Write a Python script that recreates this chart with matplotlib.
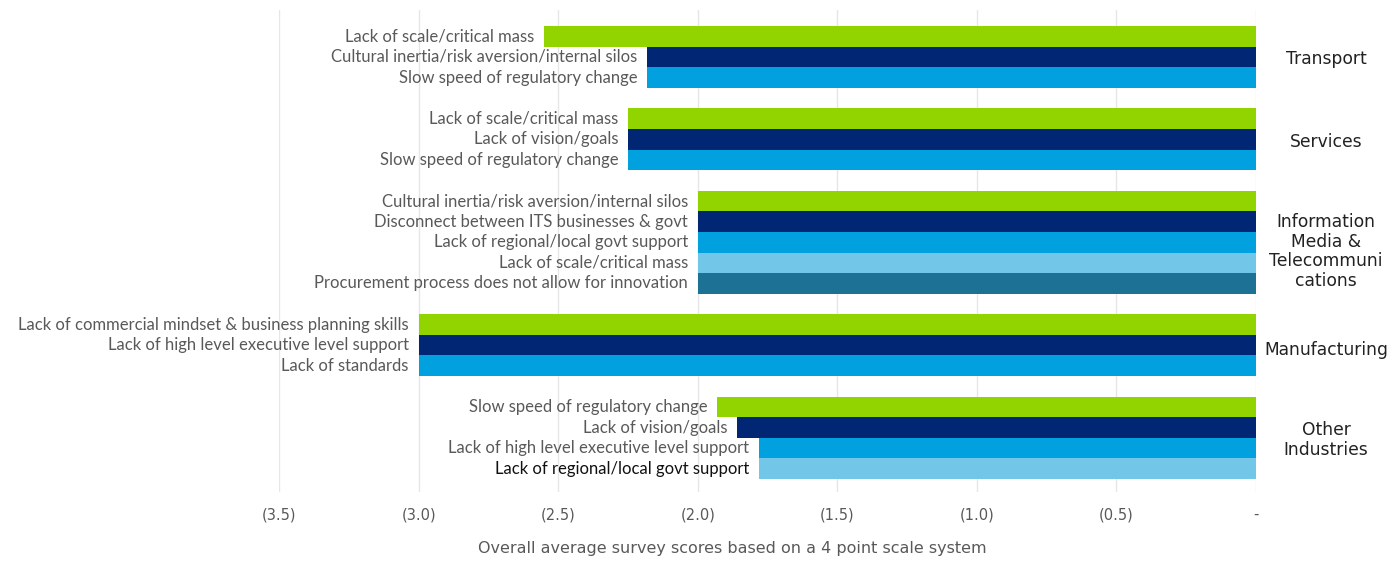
import matplotlib
matplotlib.use("Agg")
import matplotlib.pyplot as plt

# Survey results: barriers to adoption by industry (negative = barrier score)
industries = ["Transport", "Services", "Information\nMedia &\nTelecommuni\ncations",
              "Manufacturing", "Other\nIndustries"]

transport_labels = ["Lack of scale/critical mass",
                    "Cultural inertia/risk aversion/internal silos",
                    "Slow speed of regulatory change"]
transport_values = [-2.55, -2.18, -2.18]

services_labels = ["Lack of scale/critical mass",
                   "Lack of vision/goals",
                   "Slow speed of regulatory change"]
services_values = [-2.25, -2.25, -2.25]

media_labels = ["Cultural inertia/risk aversion/internal silos",
                "Disconnect between ITS businesses & govt",
                "Lack of regional/local govt support",
                "Lack of scale/critical mass",
                "Procurement process does not allow for innovation"]
media_values = [-2.0, -2.0, -2.0, -2.0, -2.0]

manufacturing_labels = ["Lack of commercial mindset & business planning skills",
                        "Lack of high level executive level support",
                        "Lack of standards"]
manufacturing_values = [-3.0, -3.0, -3.0]

other_labels = ["Slow speed of regulatory change",
                "Lack of vision/goals",
                "Lack of high level executive level support",
                "Lack of regional/local govt support"]
other_values = [-1.93, -1.86, -1.78, -1.78]

tick_values = [-3.5, -3.0, -2.5, -2.0, -1.5, -1.0, -0.5, 0.0]
tick_labels = ["(3.5)", "(3.0)", "(2.5)", "(2.0)", "(1.5)", "(1.0)", "(0.5)", "-"]

group_labels = [transport_labels, services_labels, media_labels,
                manufacturing_labels, other_labels]
group_values = [transport_values, services_values, media_values,
                manufacturing_values, other_values]

palette = ["#92D400", "#012774", "#00A1DE", "#72C6E7", "#1D7194"]
# vertical nudge of each industry caption (in bar slots)
caption_shift = [0.1, 0.15, 0.45, 0.25, 0.1]

fig = plt.figure(figsize=(14, 5.61), dpi=100)
ax = fig.add_axes([279 / 1400, 1 - 492 / 561, (1256 - 279) / 1400, (492 - 10) / 561])

slot = 0
for g, (labels, values) in enumerate(zip(group_labels, group_values)):
    start = slot
    for i, (lab, val) in enumerate(zip(labels, values)):
        ax.barh(slot, val, height=1.0, color=palette[i], zorder=2)
        col = "#111111" if (g == 4 and i == 3) else "#595959"
        ax.text(val - 0.035, slot, lab, ha="right", va="center",
                family=["Lato", "DejaVu Sans"], fontsize=12, color=col)
        slot += 1
    center = (start + slot - 1) / 2 + caption_shift[g]
    ax.text(1.0 + 70 / 977, center, industries[g], transform=ax.get_yaxis_transform(),
            ha="center", va="center", fontsize=12.3, color="#222222",
            family=["DejaVu Sans"], linespacing=1.12)
    slot += 1

last = slot - 2
ax.set_ylim(last + 0.5 + 0.63, -0.5 - 0.78)
ax.set_xlim(-3.5, 0)
ax.set_xticks(tick_values)
ax.set_xticklabels(tick_labels, family=["DejaVu Sans"], fontsize=10.5,
                   color="#595959")
ax.tick_params(axis="x", length=0, pad=11)
ax.set_yticks([])
ax.grid(axis="x", color="#E6E6E6", linewidth=1, zorder=0)
for s in ax.spines.values():
    s.set_visible(False)

fig.text(732 / 1400, 1 - 549 / 561,
         "Overall average survey scores based on a 4 point scale system",
         ha="center", va="center", family=["DejaVu Sans"], fontsize=11.5,
         color="#595959")

fig.savefig("out.png", dpi=100)
